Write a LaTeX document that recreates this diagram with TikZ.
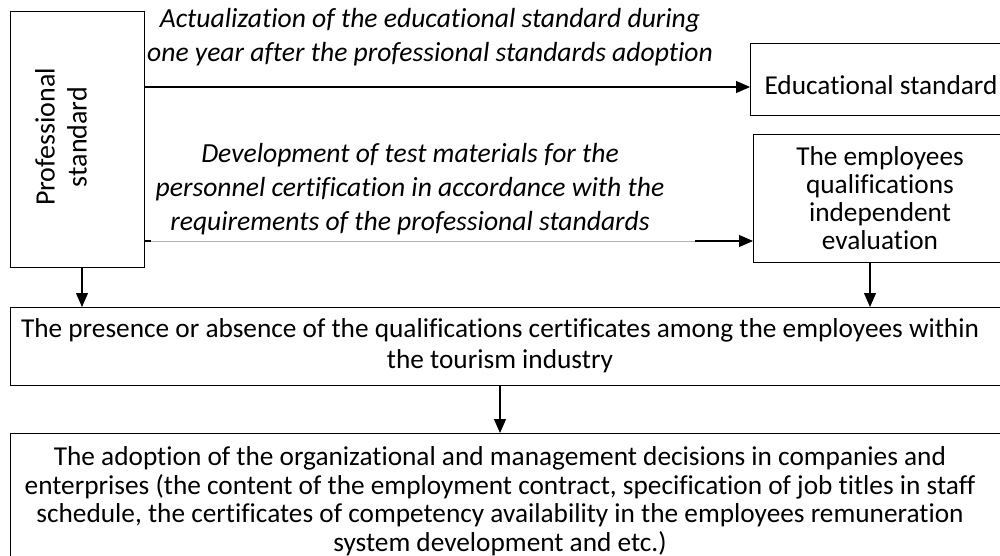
\documentclass[tikz,border=0pt]{standalone}
\usepackage{fontspec}
\setmainfont[Ligatures=NoCommon]{Carlito}
\usetikzlibrary{arrows.meta}
\begin{document}
\begin{tikzpicture}[x=1pt,y=-1pt,
  box/.style={draw=black, line width=1.1pt, inner sep=0pt, anchor=north west},
  txt/.style={font=\fontsize{27.3}{28}\selectfont, align=center, inner sep=0pt},
  itxt/.style={align=center, inner sep=0pt, font=\fontsize{27.6}{34}\selectfont\itshape},
  arr/.style={line width=1.1pt, -{Triangle[length=14pt,width=12pt]}},
  thin/.style={draw=black!30, line width=0.7pt},
]
\path[use as bounding box, clip] (0,0) rectangle (1000,556);

% boxes
\node[box, minimum width=134pt, minimum height=256pt] (ps) at (10,11) {};
\node[box, minimum width=262pt, minimum height=72pt] (ed) at (750,43) {};
\node[box, minimum width=254pt, minimum height=128pt] (emp) at (753,134) {};
\node[box, minimum width=1000pt, minimum height=78pt] (mid) at (10,307) {};
\node[box, minimum width=1000pt, minimum height=140pt] (bot) at (10,433) {};

% box texts
\node[txt, rotate=90, font=\fontsize{28}{32}\selectfont] (pstxt) at (61,137) {Professional\\standard};
\node[txt] (edtxt) at (881,85) {Educational standard};
\node[txt] (emptxt) at (880,198) {The employees\\qualifications\\independent\\evaluation};
\node[txt, font=\fontsize{27.3}{31}\selectfont] (midtxt) at (500,346) {The presence or absence of the qualifications certificates among the employees within\\the tourism industry};
\node[txt, font=\fontsize{27.3}{28.5}\selectfont] (bottxt) at (500,501) {The adoption of the organizational and management decisions in companies and\\enterprises (the content of the employment contract, specification of job titles in staff\\schedule, the certificates of competency availability in the employees remuneration\\system development and etc.)};

% connector labels
\node[itxt] (lab1) at (430,37) {Actualization of the educational standard during\\one year after the professional standards adoption};
\node[itxt] (lab2) at (410,189) {Development of test materials for the\\personnel certification in accordance with the\\requirements of the professional standards};

% connectors
\coordinate (y1) at (0,87);
\coordinate (y2) at (0,241);
\coordinate (g) at (695,241);
\coordinate (xL) at (82,0);
\coordinate (xR) at (870,0);
\coordinate (xC) at (500,0);

\draw[arr] (ps.east |- y1) -- (ed.west |- y1);
\draw[thin] (ps.east |- y2) -- (g);
\draw[line width=1.1pt] (ps.east |- y2) -- ++(6,0);
\draw[arr] (g) -- (emp.west |- y2);
\draw[arr] (ps.south -| xL) -- (mid.north -| xL);
\draw[arr] (emp.south -| xR) -- (mid.north -| xR);
\draw[arr] (mid.south -| xC) -- (bot.north -| xC);
\end{tikzpicture}
\end{document}
